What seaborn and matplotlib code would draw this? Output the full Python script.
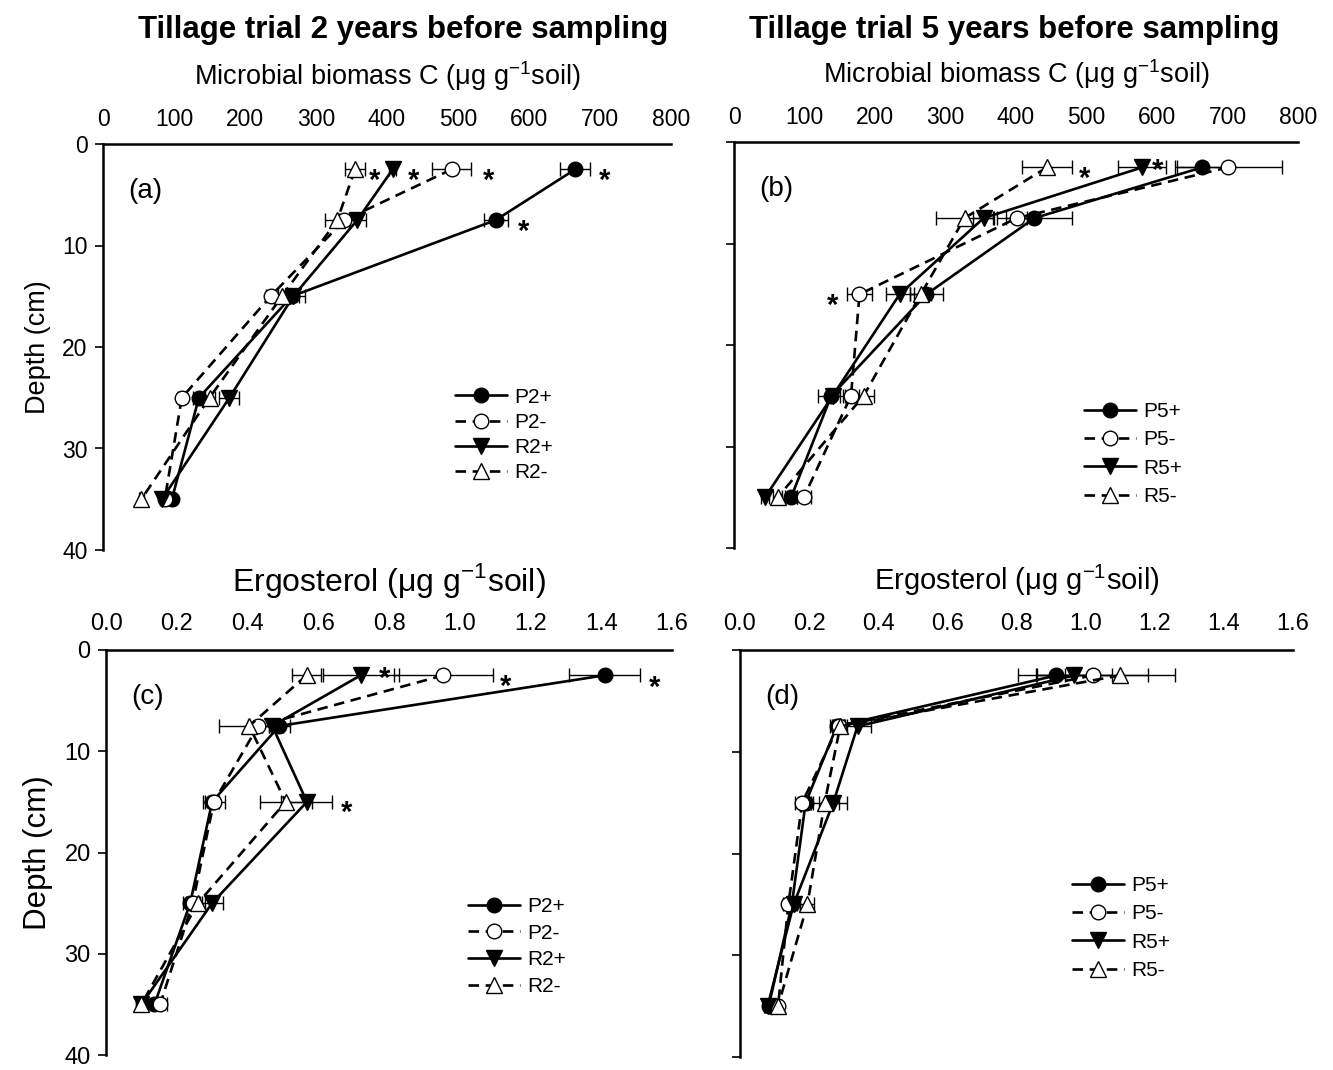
import numpy as np
import pandas as pd
import matplotlib
matplotlib.use("Agg")
import matplotlib.pyplot as plt
from matplotlib.lines import Line2D
import seaborn as sns

sns.set_style("ticks")
plt.rcParams["font.family"] = ["Liberation Sans", "DejaVu Sans"]
plt.rcParams["mathtext.fontset"] = "custom"
plt.rcParams["mathtext.rm"] = "Liberation Sans"
plt.rcParams["mathtext.sf"] = "Liberation Sans"
for k in ["text.color", "axes.labelcolor", "xtick.color", "ytick.color",
          "axes.edgecolor"]:
    plt.rcParams[k] = "black"

# ---------------- data ----------------
depths = [2.5, 7.5, 15, 25, 35]

# (a) Microbial biomass C, trial 2 years before sampling
a_names = ["P2+", "P2-", "R2+", "R2-"]
a_P_plus = [665, 553, 266, 135, 97]
a_P_minus = [491, 340, 236, 111, 87]
a_R_plus = [408, 358, 268, 178, 83]
a_R_minus = [355, 330, 252, 150, 54]
a_err_P_plus = [21, 17, 10, 8, 5]
a_err_P_minus = [27, 8, 6, 5, 4]
a_err_R_plus = [5, 12, 16, 14, 3]
a_err_R_minus = [14, 17, 6, 8, 4]

# (b) Microbial biomass C, trial 5 years before sampling
b_names = ["P5+", "P5-", "R5+", "R5-"]
b_P_plus = [664, 426, 273, 138, 81]
b_P_minus = [701, 401, 178, 166, 99]
b_R_plus = [579, 354, 235, 140, 44]
b_R_minus = [444, 327, 265, 184, 62]
b_err_P_plus = [36, 53, 23, 19, 8]
b_err_P_minus = [76, 15, 18, 12, 10]
b_err_R_plus = [34, 15, 20, 10, 6]
b_err_R_minus = [36, 40, 15, 14, 6]

# (c) Ergosterol, trial 2 years before sampling
c_P_plus = [1.41, 0.49, 0.30, 0.238, 0.137]
c_P_minus = [0.954, 0.43, 0.305, 0.245, 0.153]
c_R_plus = [0.72, 0.47, 0.568, 0.30, 0.10]
c_R_minus = [0.567, 0.405, 0.508, 0.26, 0.10]
c_err_P_plus = [0.10, 0.03, 0.02, 0.02, 0.02]
c_err_P_minus = [0.14, 0.03, 0.03, 0.02, 0.02]
c_err_R_plus = [0.107, 0.03, 0.072, 0.03, 0.015]
c_err_R_minus = [0.042, 0.086, 0.074, 0.02, 0.015]

# (d) Ergosterol, trial 5 years before sampling
d_P_plus = [0.915, 0.28, 0.19, 0.15, 0.083]
d_P_minus = [1.02, 0.285, 0.18, 0.14, 0.11]
d_R_plus = [0.967, 0.34, 0.27, 0.155, 0.08]
d_R_minus = [1.10, 0.29, 0.245, 0.195, 0.11]
d_err_P_plus = [0.11, 0.02, 0.02, 0.015, 0.01]
d_err_P_minus = [0.16, 0.02, 0.02, 0.015, 0.01]
d_err_R_plus = [0.11, 0.04, 0.04, 0.02, 0.01]
d_err_R_minus = [0.16, 0.02, 0.04, 0.02, 0.01]

mbc_ticks = [0, 100, 200, 300, 400, 500, 600, 700, 800]
erg_ticks = [0.0, 0.2, 0.4, 0.6, 0.8, 1.0, 1.2, 1.4, 1.6]
depth_ticks = [0, 10, 20, 30, 40]

# significance stars: (x, depth, vertical shift in points)
a_stars = [(707, 2.5, -1.5), (593, 7.5, -1.5), (543, 2.5, -1.5), (438, 2.5, -1.5), (383, 2.5, -1.5)]
b_stars = [(497, 2.5, -1.5), (601, 2.5, 4), (140, 15, -1.5)]
c_stars = [(1.55, 2.5, -2), (1.13, 2.5, -1.5), (0.786, 2.5, 4), (0.68, 15, -1.5)]
d_stars = []

# ---------------- styles ----------------
styles = [
    dict(marker="o", mfc="black", ls="-", ms=10.5),
    dict(marker="o", mfc="white", ls=(0, (4, 2.5)), ms=10.5),
    dict(marker="v", mfc="black", ls="-", ms=11),
    dict(marker="^", mfc="white", ls=(0, (4, 2.5)), ms=11),
]
LW = 1.9

W, H = 1333, 1070
fig = plt.figure(figsize=(W / 100, H / 100), dpi=100)


def px_axes(l, r, t, b):
    return fig.add_axes([l / W, 1 - b / H, (r - l) / W, (b - t) / H])


def panel(ax, names, series, errs, xmax, xticks, xfmt, letter, stars,
          leg_anchor, leg_spacing, show_ylab, xlabel, xlabel_size, tick_size,
          ylabel_size, xlabelpad, xpad):
    rows = []
    for name, vals in zip(names, series):
        for d, v in zip(depths, vals):
            rows.append(dict(series=name, value=v, depth=d))
    df = pd.DataFrame(rows)

    for name, vals, err, st in zip(names, series, errs, styles):
        ax.errorbar(vals, depths, xerr=err, fmt="none", ecolor="black",
                    elinewidth=1.0, capsize=5, capthick=1.0, zorder=2)
    for name, st in zip(names, styles):
        sub = df[df["series"] == name]
        sns.lineplot(data=sub, x="value", y="depth", orient="y", sort=False,
                     estimator=None, ax=ax, color="black", linewidth=LW,
                     linestyle=st["ls"], marker=st["marker"],
                     markerfacecolor=st["mfc"], markeredgecolor="black",
                     markeredgewidth=1.0, markersize=st["ms"], zorder=3,
                     legend=False)

    ax.set_xlim(0, xmax)
    ax.set_ylim(40, 0)
    ax.xaxis.tick_top()
    ax.xaxis.set_label_position("top")
    ax.set_xticks(xticks)
    ax.set_xticklabels([xfmt(t) for t in xticks], fontsize=tick_size)
    ax.set_yticks(depth_ticks)
    ax.tick_params(axis="x", length=0, pad=xpad, colors="black")
    ax.tick_params(axis="y", length=6, width=1.2, direction="out",
                   labelsize=tick_size, pad=5, colors="black")
    if not show_ylab:
        ax.set_yticklabels([])
    for s in ["bottom", "right"]:
        ax.spines[s].set_visible(False)
    for s in ["top", "left"]:
        ax.spines[s].set_linewidth(1.8)
        ax.spines[s].set_color("black")
    ax.set_xlabel(xlabel, fontsize=xlabel_size, labelpad=xlabelpad,
                  color="black")
    ax.set_ylabel("Depth (cm)" if show_ylab else "", fontsize=ylabel_size,
                  labelpad=8, color="black")
    ax.set_facecolor("none")

    ax.text(0.045, 0.885, letter, transform=ax.transAxes, fontsize=20,
            ha="left", va="center", color="black")

    for (sx, sd, dy) in stars:
        ax.annotate("*", xy=(sx, sd), xytext=(0, -12.5 + dy),
                    textcoords="offset points", ha="center", va="baseline",
                    fontsize=21, fontweight="bold", color="black")

    handles = [Line2D([], [], color="black", lw=LW, ls=st["ls"],
                      marker=st["marker"], mfc=st["mfc"], mec="black",
                      mew=1.0, ms=st["ms"]) for st in styles]
    leg = ax.legend(handles, names, loc="upper left", bbox_to_anchor=leg_anchor,
                    frameon=False, fontsize=15, handlelength=2.5,
                    handletextpad=0.35, labelspacing=leg_spacing,
                    borderaxespad=0, borderpad=0)
    for t in leg.get_texts():
        t.set_color("black")


mbc_lab = "Microbial biomass C (μg g$^{\\mathsf{-1}}$soil)"
erg_lab_c = "Ergosterol (μg g$^{\\mathsf{-1}}$soil)"
erg_lab_d = "Ergosterol (μg g$^{\\mathsf{-1}}$soil)"

ax_a = px_axes(103, 671, 144, 550)
panel(ax_a, a_names, [a_P_plus, a_P_minus, a_R_plus, a_R_minus],
      [a_err_P_plus, a_err_P_minus, a_err_R_plus, a_err_R_minus],
      800, mbc_ticks, lambda t: f"{t:d}", "(a)", a_stars, (0.62, 0.40), 0.3,
      True, mbc_lab, 19.5, 16.5, 19.5, 17, 9)

ax_b = px_axes(734, 1298, 142, 548)
panel(ax_b, b_names, [b_P_plus, b_P_minus, b_R_plus, b_R_minus],
      [b_err_P_plus, b_err_P_minus, b_err_R_plus, b_err_R_minus],
      800, mbc_ticks, lambda t: f"{t:d}", "(b)", b_stars, (0.62, 0.36), 0.45,
      False, mbc_lab, 19.5, 16.5, 19.5, 17, 9)

ax_c = px_axes(106, 672, 650, 1055)
panel(ax_c, a_names, [c_P_plus, c_P_minus, c_R_plus, c_R_minus],
      [c_err_P_plus, c_err_P_minus, c_err_R_plus, c_err_R_minus],
      1.6, erg_ticks, lambda t: f"{t:.1f}", "(c)", c_stars, (0.64, 0.39), 0.37,
      True, erg_lab_c, 23, 17, 22.5, 16, 11)

ax_d = px_axes(740, 1293, 650, 1057)
panel(ax_d, b_names, [d_P_plus, d_P_minus, d_R_plus, d_R_minus],
      [d_err_P_plus, d_err_P_minus, d_err_R_plus, d_err_R_minus],
      1.6, erg_ticks, lambda t: f"{t:.1f}", "(d)", d_stars, (0.60, 0.445), 0.45,
      False, erg_lab_d, 21, 17, 22.5, 16, 11)

fig.text(403 / W, 1 - 30 / H, "Tillage trial 2 years before sampling",
         ha="center", va="center", fontsize=22.5, fontweight="bold",
         color="black")
fig.text(1014 / W, 1 - 30 / H, "Tillage trial 5 years before sampling",
         ha="center", va="center", fontsize=22.5, fontweight="bold",
         color="black")

fig.savefig("out.png", dpi=100, facecolor="white")
